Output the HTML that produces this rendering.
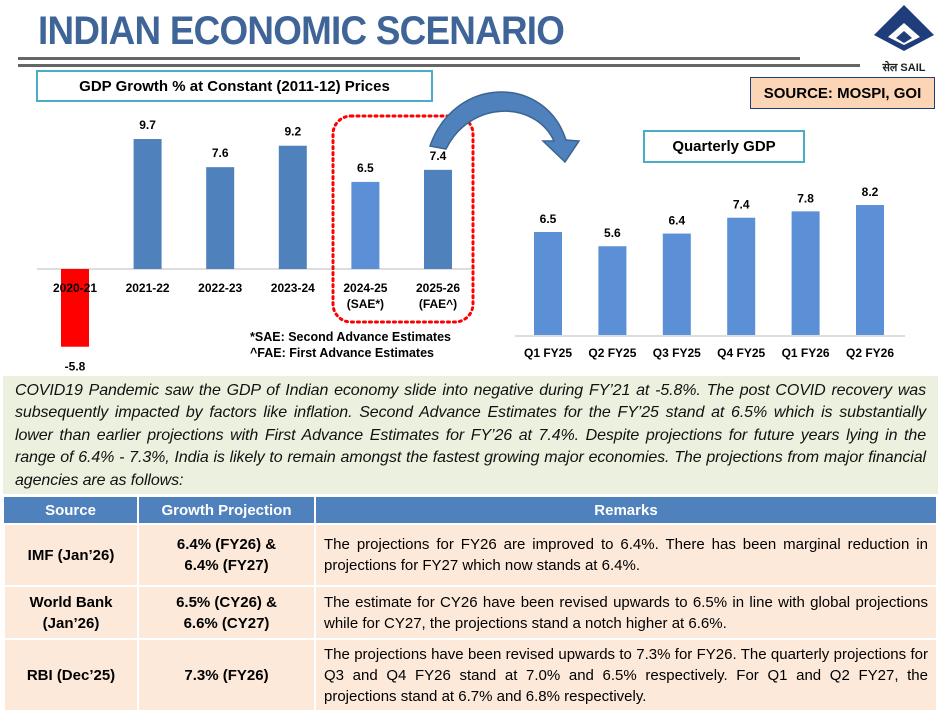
<!DOCTYPE html>
<html><head><meta charset="utf-8">
<style>
body{margin:0;width:944px;height:715px;background:#fff;position:relative;overflow:hidden;font-family:"Liberation Sans",sans-serif;}
.abs{position:absolute;}
.title{left:38px;top:9px;font-size:40px;font-weight:bold;color:#3e6498;transform:scaleX(0.92);transform-origin:left top;letter-spacing:-0.8px;white-space:nowrap;}
.box{position:absolute;box-sizing:border-box;font-weight:bold;font-size:15px;display:flex;align-items:center;justify-content:center;}
.para{left:3px;top:376px;width:935px;height:118px;background:#ebf1de;box-sizing:border-box;padding:4px 12px 0 12px;font-style:italic;font-size:16px;line-height:22.4px;text-align:justify;color:#111;letter-spacing:-0.1px;}
table{position:absolute;left:3px;top:497px;width:935px;border-collapse:collapse;font-size:15px;}
th{background:#4f81bd;color:#fff;height:26px;font-weight:bold;border-right:2px solid #fff;padding:0;}
td{background:#fce9da;border:2px solid #fff;padding:2px 8px;line-height:21px;}
td.c{text-align:center;font-weight:bold;}
td.r{text-align:justify;}
</style></head><body>
<div class="abs title">INDIAN ECONOMIC SCENARIO</div>
<div class="abs" style="left:18px;top:57px;width:782px;height:3px;background:#666"></div>
<div class="abs" style="left:18px;top:64px;width:842px;height:3px;background:#666"></div>
<svg class="abs" style="left:868px;top:3px" width="72" height="72">
<path d="M36 2 L66 32 L36 48 L6 32 Z" fill="#1f3d7a"/>
<path d="M36 20 L52 34 L36 42 L20 34 Z" fill="#fff"/>
<path d="M36 28 L44 35 L36 40 L28 35 Z" fill="#1f3d7a"/>
<text x="36" y="68" text-anchor="middle" font-size="11" font-weight="bold" fill="#222" font-family="Liberation Sans, sans-serif">सेल SAIL</text>
</svg>
<div class="box" style="left:36px;top:70px;width:397px;height:32px;border:2px solid #4bacc6;">GDP Growth % at Constant (2011-12) Prices</div>
<div class="box" style="left:750px;top:77px;width:185px;height:32px;background:#fbd5b5;border:1px solid #1f3d7a;font-size:15px">SOURCE: MOSPI, GOI</div>
<div class="box" style="left:643px;top:130px;width:162px;height:33px;border:2px solid #4bacc6;">Quarterly GDP</div>
<svg id="chart" class="abs" style="left:0;top:0" width="944" height="375"></svg>
<div class="abs" style="left:250px;top:329px;font-size:12.5px;font-weight:bold;line-height:16px">*SAE: Second Advance Estimates<br>^FAE: First Advance Estimates</div>
<div class="abs para">COVID19 Pandemic saw the GDP of Indian economy slide into negative during FY’21 at -5.8%. The post COVID recovery was subsequently impacted by factors like inflation. Second Advance Estimates for the FY’25 stand at 6.5% which is substantially lower than earlier projections with First Advance Estimates for FY’26 at 7.4%. Despite projections for future years lying in the range of 6.4% - 7.3%, India is likely to remain amongst the fastest growing major economies. The projections from major financial agencies are as follows:</div>
<table>
<tr><th style="width:133px">Source</th><th style="width:175px">Growth Projection</th><th>Remarks</th></tr>
<tr style="height:62px"><td class="c">IMF (Jan’26)</td><td class="c">6.4% (FY26) &amp;<br>6.4% (FY27)</td><td class="r">The projections for FY26 are improved to 6.4%. There has been marginal reduction in projections for FY27 which now stands at 6.4%.</td></tr>
<tr style="height:53px"><td class="c">World Bank<br>(Jan’26)</td><td class="c">6.5% (CY26) &amp;<br>6.6% (CY27)</td><td class="r">The estimate for CY26 have been revised upwards to 6.5% in line with global projections while for CY27, the projections stand a notch higher at 6.6%.</td></tr>
<tr style="height:72px"><td class="c">RBI (Dec’25)</td><td class="c">7.3% (FY26)</td><td class="r">The projections have been revised upwards to 7.3% for FY26. The quarterly projections for Q3 and Q4 FY26 stand at 7.0% and 6.5% respectively. For Q1 and Q2 FY27, the projections stand at 6.7% and 6.8% respectively.</td></tr>
</table>
<script>
const annualCats=["2020-21","2021-22","2022-23","2023-24","2024-25","2025-26"];
const annualSub=["","","","","(SAE*)","(FAE^)"];
const annualVals=[-5.8,9.7,7.6,9.2,6.5,7.4];
const qCats=["Q1 FY25","Q2 FY25","Q3 FY25","Q4 FY25","Q1 FY26","Q2 FY26"];
const qVals=[6.5,5.6,6.4,7.4,7.8,8.2];
const NS="http://www.w3.org/2000/svg";
const svg=document.getElementById('chart');
function mk(t,a){const e=document.createElementNS(NS,t);for(const k in a)e.setAttribute(k,a[k]);svg.appendChild(e);return e;}
const aX=i=>75+i*72.6, aY=v=>269-v*13.4;
let ax=mk('line',{x1:37,x2:475,y1:269,y2:269,stroke:'#bbb'});


annualVals.forEach((v,i)=>{
 const x=aX(i),y0=aY(0),y1=aY(v);
 const r=mk('rect',{x:x-14,y:Math.min(y0,y1),width:28,height:Math.abs(y1-y0),fill:v<0?'#ff0000':(i==4?'#5b8fd6':'#4f81bd')});
 
 
 const t=mk('text',{x:x,y:v<0?y1+24:y1-10,'text-anchor':'middle','font-size':12,'font-weight':'bold'});t.textContent=v;
 
 
 const c=mk('text',{x:x,y:292,'text-anchor':'middle','font-size':12,'font-weight':'bold'});c.textContent=annualCats[i];
 
 
 if(annualSub[i]){const s=mk('text',{x:x,y:308,'text-anchor':'middle','font-size':12,'font-weight':'bold'});s.textContent=annualSub[i];
 
 }
});
let hl=mk('rect',{x:333,y:116,width:140,height:206,rx:18,fill:'none',stroke:'#f00','stroke-width':3,'stroke-dasharray':'2 4','stroke-linecap':'round'});


let arr=mk('path',{d:'M430 146 C455 75 545 75 566 140 L579 141 L565 162 L543 141 L554 141 C535 100 470 100 446 149 Z',fill:'#4f81bd',stroke:'#3a6494','stroke-width':1.5});


const qX=i=>548+i*64.4, qY=v=>335-v*15.85;
let qa=mk('line',{x1:515,x2:905,y1:336,y2:336,stroke:'#bbb'});


qVals.forEach((v,i)=>{
 const x=qX(i);
 const r=mk('rect',{x:x-14,y:qY(v),width:28,height:qY(0)-qY(v),fill:'#5b8fd6'});
 
 
 const t=mk('text',{x:x,y:qY(v)-9,'text-anchor':'middle','font-size':12,'font-weight':'bold'});t.textContent=v;
 
 
 const c=mk('text',{x:x,y:357,'text-anchor':'middle','font-size':12,'font-weight':'bold'});c.textContent=qCats[i];
 
 
});
</script>
</body></html>
